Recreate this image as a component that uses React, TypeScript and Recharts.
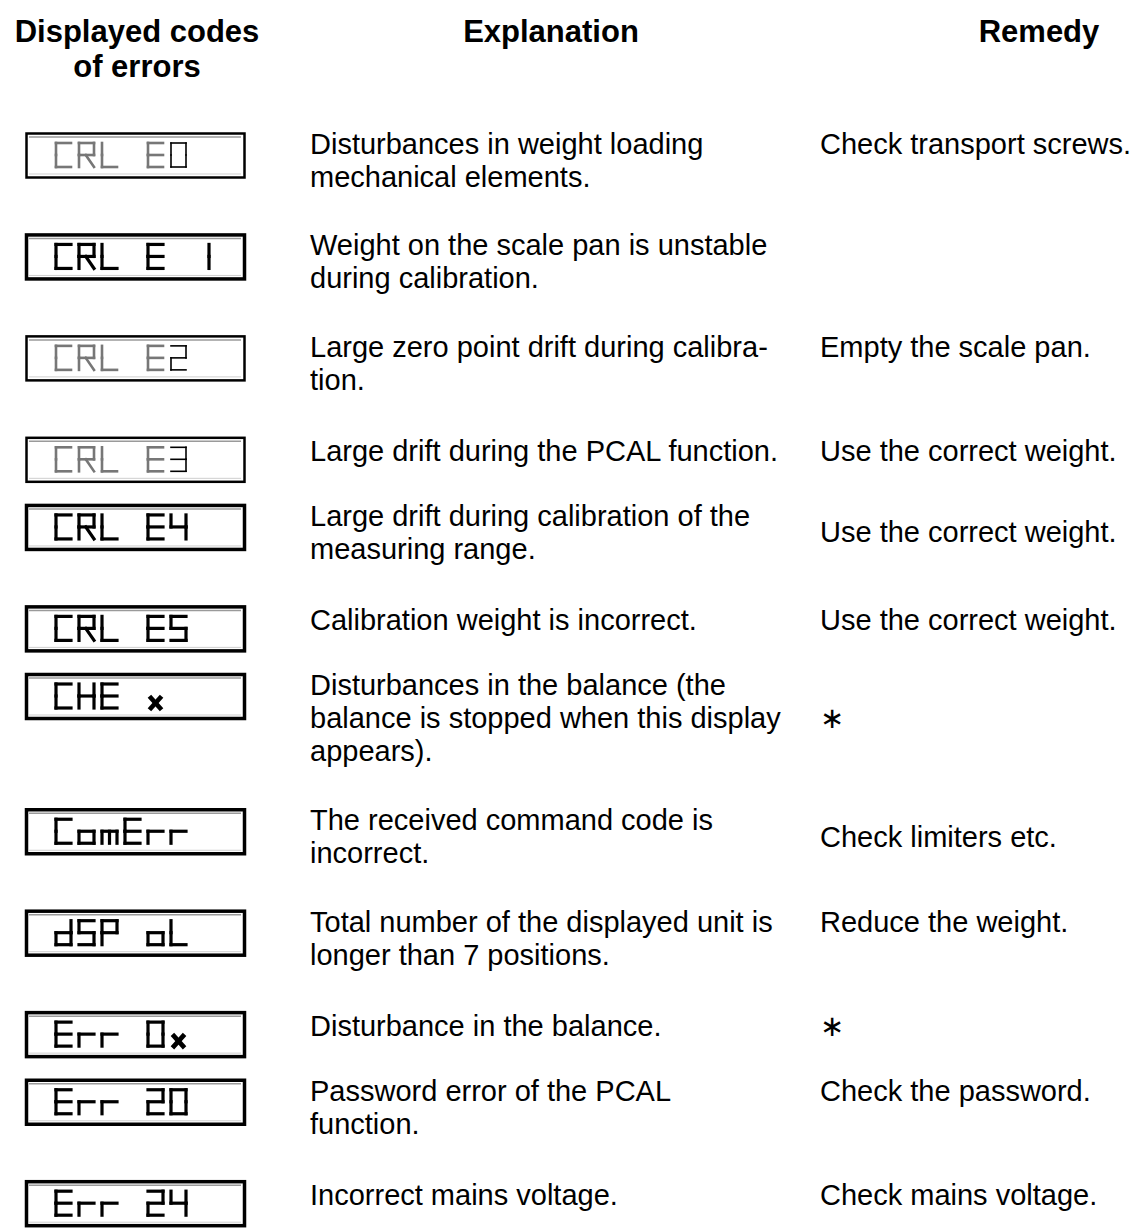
import { ScatterChart, Scatter, XAxis, YAxis } from "recharts";

const W = 1135;
const H = 1232;

const headers = [["Displayed codes", "of errors"], ["Explanation"], ["Remedy"]];

const codes = [
  "CAL E0",
  "CAL E 1",
  "CAL E2",
  "CAL E3",
  "CAL E4",
  "CAL E5",
  "CHE x",
  "ComErr",
  "dSP oL",
  "Err 0x",
  "Err 20",
  "Err 24",
];

const explanations = [
  ["Disturbances in weight loading", "mechanical elements."],
  ["Weight on the scale pan is unstable", "during calibration."],
  ["Large zero point drift during calibra-", "tion."],
  ["Large drift during the PCAL function."],
  ["Large drift during calibration of the", "measuring range."],
  ["Calibration weight is incorrect."],
  ["Disturbances in the balance (the", "balance is stopped when this display", "appears)."],
  ["The received command code is", "incorrect."],
  ["Total number of the displayed unit is", "longer than 7 positions."],
  ["Disturbance in the balance."],
  ["Password error of the PCAL", "function."],
  ["Incorrect mains voltage."],
];

const remedies = [
  "Check transport screws.",
  "",
  "Empty the scale pan.",
  "Use the correct weight.",
  "Use the correct weight.",
  "Use the correct weight.",
  "\u2217",
  "Check limiters etc.",
  "Reduce the weight.",
  "\u2217",
  "Check the password.",
  "Check mains voltage.",
];

// layout: column left edges, header centres, remedy line offset, faded LCD rows
const COL_CODE = 25;
const COL_TEXT = 310;
const COL_REMEDY = 820;
const HEADER_X = [137, 551, 1039];
const remedyShift = [0, 0, 0, 0, 0.5, 0, 1, 0.5, 0, 0, 0, 0];
const faded = [true, false, true, true, false, false, false, false, false, false, false, false];

const FONT = "'Liberation Sans', Arial, sans-serif";
const LINE = 33;

// each row takes its explanation lines plus one line of spacing
const rowStart: number[] = [];
explanations.reduce((acc, lines, i) => {
  rowStart[i] = acc;
  return acc + lines.length + 1;
}, 0);
const lastUnit = rowStart[rowStart.length - 1] + 1;

const rows = codes.map((code, i) => ({
  i,
  code,
  lines: explanations[i],
  remedy: remedies[i],
  y: rowStart[i],
}));

const codeData = rows.map((r) => ({ ...r, x: COL_CODE }));
const textData = rows.map((r) => ({ ...r, x: COL_TEXT }));
const remedyData = rows.filter((r) => r.remedy).map((r) => ({ ...r, x: COL_REMEDY }));

// seven segment style glyphs
const SEGS: Record<string, string> = {
  C: "afed",
  A: "abfgeR",
  L: "fed",
  E: "afged",
  "0": "abcdef",
  "1": "bc",
  "2": "abged",
  "3": "abgcd",
  "4": "fgbc",
  "5": "afgcd",
  S: "afgcd",
  H: "febcg",
  o: "gcde",
  m: "gecM",
  r: "ge",
  d: "bcdeg",
  P: "abfge",
  x: "X",
};

function Glyph({ ch, x, y, color, sw }: { ch: string; x: number; y: number; color: string; sw: number }) {
  const w = 15;
  const h = 24;
  const m = 12;
  const lines: number[][] = [];
  for (const s of SEGS[ch] || "") {
    if (s === "a") lines.push([0, 0, w, 0]);
    if (s === "b") lines.push([w, 0, w, m]);
    if (s === "c") lines.push([w, m, w, h]);
    if (s === "d") lines.push([0, h, w, h]);
    if (s === "e") lines.push([0, m, 0, h]);
    if (s === "f") lines.push([0, 0, 0, m]);
    if (s === "g") lines.push([0, m, w, m]);
    if (s === "R") lines.push([w * 0.45, m, w, h]);
    if (s === "M") lines.push([w / 2, m, w / 2, h]);
    if (s === "X") {
      lines.push([3, m + 2, w - 3, h]);
      lines.push([w - 3, m + 2, 3, h]);
    }
  }
  const heavy = ch === "x" ? sw + 1.5 : sw;
  return (
    <g stroke={color} strokeWidth={heavy} strokeLinecap="square" fill="none">
      {lines.map((l, k) => (
        <line key={k} x1={x + l[0]} y1={y + l[1]} x2={x + l[2]} y2={y + l[3]} />
      ))}
    </g>
  );
}

function LcdBox(props: any) {
  const { cx, cy, payload } = props;
  const soft = faded[payload.i];
  const chars: string[] = payload.code.split("");
  return (
    <g>
      <rect
        x={cx + 1.5}
        y={cy + 1.5}
        width={218}
        height={44}
        fill="#fff"
        stroke="#000"
        strokeWidth={soft ? 2.5 : 3.5}
      />
      <line x1={cx + 4} y1={cy + 5} x2={cx + 216} y2={cy + 5} stroke="#9a9a9a" strokeWidth={1.5} />
      <line x1={cx + 4} y1={cy + 42} x2={cx + 216} y2={cy + 42} stroke="#cfcfcf" strokeWidth={1} />
      {chars.map((ch, k) => {
        if (ch === " ") return null;
        const last = k === chars.length - 1;
        const color = soft ? (last ? "#000" : "#777") : "#000";
        const sw = soft ? (last ? 1.6 : 2.6) : 3.2;
        return <Glyph key={k} ch={ch} x={cx + 31 + k * 23} y={cy + 11} color={color} sw={sw} />;
      })}
    </g>
  );
}

function firstBaseline(lines: string[]) {
  return lines.length === 1 ? 25 : 22;
}

function Explanation(props: any) {
  const { cx, cy, payload } = props;
  const lines: string[] = payload.lines;
  return (
    <text x={cx} y={cy + firstBaseline(lines)} fontFamily={FONT} fontSize={29} fill="#000">
      {lines.map((l, k) => (
        <tspan key={k} x={cx} dy={k === 0 ? 0 : LINE}>
          {l}
        </tspan>
      ))}
    </text>
  );
}

function Remedy(props: any) {
  const { cx, cy, payload } = props;
  const y = cy + firstBaseline(payload.lines) + remedyShift[payload.i] * LINE;
  return (
    <text x={cx} y={y} fontFamily={FONT} fontSize={29} fill="#000">
      {payload.remedy}
    </text>
  );
}

function HeaderTick(props: any) {
  const { x, y, payload } = props;
  const lines = headers[HEADER_X.indexOf(payload.value)] || [];
  return (
    <text x={x} y={y - 90} textAnchor="middle" fontFamily={FONT} fontWeight={700} fontSize={31} fill="#000">
      {lines.map((l, k) => (
        <tspan key={k} x={x} dy={k === 0 ? 0 : 35}>
          {l}
        </tspan>
      ))}
    </text>
  );
}

export default function App() {
  return (
    <div style={{ position: "absolute", left: 0, top: 0, width: W, height: H, background: "#fff" }}>
      <ScatterChart width={W} height={H} margin={{ top: 0, right: 0, bottom: 18, left: 0 }}>
        <XAxis
          type="number"
          dataKey="x"
          orientation="top"
          domain={[0, W]}
          ticks={HEADER_X}
          interval={0}
          height={132}
          tickSize={0}
          tickMargin={0}
          axisLine={false}
          tickLine={false}
          tick={<HeaderTick />}
        />
        <YAxis type="number" dataKey="y" domain={[0, lastUnit]} reversed hide />
        <Scatter data={codeData} shape={(p: any) => <LcdBox {...p} />} isAnimationActive={false} />
        <Scatter data={textData} shape={(p: any) => <Explanation {...p} />} isAnimationActive={false} />
        <Scatter data={remedyData} shape={(p: any) => <Remedy {...p} />} isAnimationActive={false} />
      </ScatterChart>
    </div>
  );
}
